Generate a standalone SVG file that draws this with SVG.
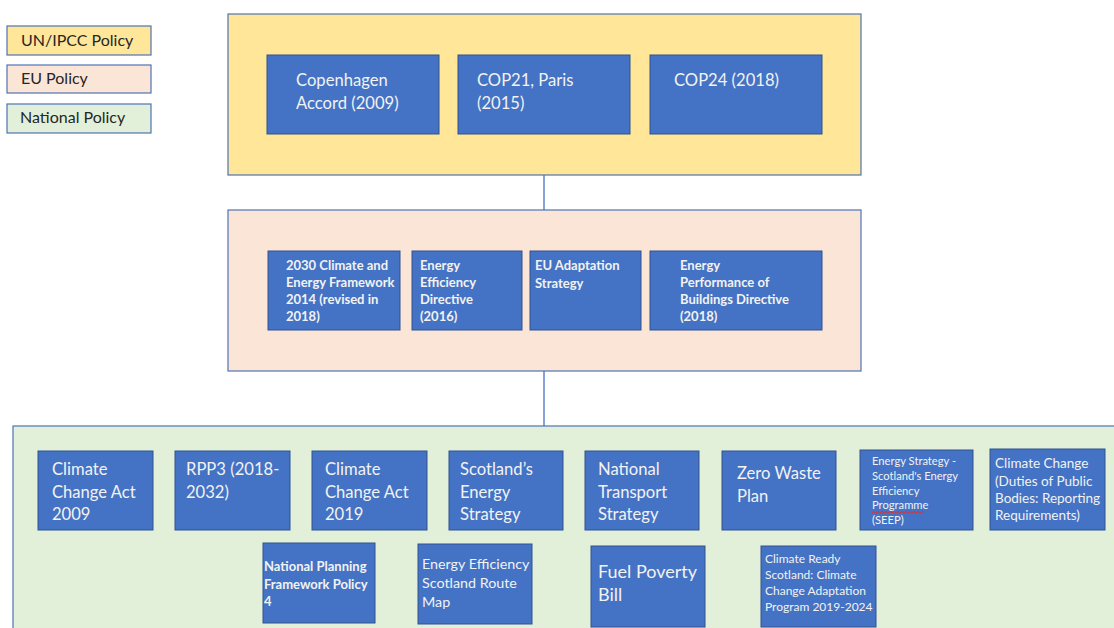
<svg xmlns="http://www.w3.org/2000/svg" width="1114" height="628" viewBox="0 0 1114 628">
<style>
.bg{fill:#ffffff}
.un{fill:#FFE699;stroke:#4F73B5;stroke-width:1.2}
.eu{fill:#FBE5D6;stroke:#4F73B5;stroke-width:1.2}
.nat{fill:#E2F0D9;stroke:#4F73B5;stroke-width:1.2}
.node{fill:#4472C4;stroke:#2F528F;stroke-width:1}
.t{font-family:Lato,"Open Sans","Liberation Sans",sans-serif;fill:#F2F2F2}
.t16{font-size:16.6px}
.t12{font-size:13px;font-weight:bold}
.leg{font-family:Lato,"Open Sans","Liberation Sans",sans-serif;font-size:16px;fill:#262626}
.conn{stroke:#4472C4;stroke-width:1.3;fill:none}
</style>
<rect class="bg" x="0" y="0" width="1114" height="628"/>

<g id="legend">
  <g id="legend-un"><rect class="un" x="7" y="26" width="144" height="29"/><text class="leg" x="21" y="46">UN/IPCC Policy</text></g>
  <g id="legend-eu"><rect class="eu" x="7" y="65" width="144" height="28"/><text class="leg" x="21" y="84">EU Policy</text></g>
  <g id="legend-nat"><rect class="nat" x="7" y="104" width="144" height="29"/><text class="leg" x="20" y="123">National Policy</text></g>
</g>

<g id="connectors">
  <line class="conn" x1="544" y1="175" x2="544" y2="210"/>
  <line class="conn" x1="544" y1="371" x2="544" y2="426"/>
</g>

<g id="un-container"><rect class="un" x="228" y="14" width="633" height="161"/></g>
<g id="eu-container"><rect class="eu" x="228" y="210" width="633" height="161"/></g>
<g id="nat-container"><rect class="nat" x="13" y="426" width="1110" height="210"/></g>

<g id="copenhagen"><rect class="node" x="267" y="55" width="172" height="79"/>
  <text class="t t16" x="296" y="86">Copenhagen</text><text class="t t16" x="296" y="109">Accord (2009)</text></g>
<g id="cop21"><rect class="node" x="458" y="55" width="172" height="79"/>
  <text class="t t16" x="477" y="86">COP21, Paris</text><text class="t t16" x="477" y="109">(2015)</text></g>
<g id="cop24"><rect class="node" x="650" y="55" width="172" height="79"/>
  <text class="t t16" x="674" y="86">COP24 (2018)</text></g>

<g id="eu2030"><rect class="node" x="268" y="251" width="132" height="79"/>
  <text class="t t12" x="286" y="270">2030 Climate and</text><text class="t t12" x="286" y="287">Energy Framework</text><text class="t t12" x="286" y="304">2014 (revised in</text><text class="t t12" x="286" y="321">2018)</text></g>
<g id="eed"><rect class="node" x="412" y="251" width="110" height="79"/>
  <text class="t t12" x="420" y="270">Energy</text><text class="t t12" x="420" y="287">Efficiency</text><text class="t t12" x="420" y="304">Directive</text><text class="t t12" x="420" y="321">(2016)</text></g>
<g id="euadapt"><rect class="node" x="530" y="251" width="111" height="79"/>
  <text class="t t12" x="535" y="270">EU Adaptation</text><text class="t t12" x="535" y="288">Strategy</text></g>
<g id="epbd"><rect class="node" x="650" y="251" width="172" height="79"/>
  <text class="t t12" x="680" y="270">Energy</text><text class="t t12" x="680" y="287">Performance of</text><text class="t t12" x="680" y="304">Buildings Directive</text><text class="t t12" x="680" y="321">(2018)</text></g>

<g id="cca2009"><rect class="node" x="38" y="451" width="115" height="79"/>
  <text class="t t16" x="52" y="475">Climate</text><text class="t t16" x="52" y="498">Change Act</text><text class="t t16" x="52" y="520">2009</text></g>
<g id="rpp3"><rect class="node" x="175" y="451" width="115" height="79"/>
  <text class="t t16" x="186" y="475">RPP3 (2018-</text><text class="t t16" x="186" y="498">2032)</text></g>
<g id="cca2019"><rect class="node" x="312" y="451" width="115" height="79"/>
  <text class="t t16" x="325" y="475">Climate</text><text class="t t16" x="325" y="498">Change Act</text><text class="t t16" x="325" y="520">2019</text></g>
<g id="ses"><rect class="node" x="449" y="451" width="114" height="79"/>
  <text class="t t16" x="460" y="475">Scotland’s</text><text class="t t16" x="460" y="498">Energy</text><text class="t t16" x="460" y="520">Strategy</text></g>
<g id="nts"><rect class="node" x="585" y="451" width="114" height="79"/>
  <text class="t t16" x="598" y="475">National</text><text class="t t16" x="598" y="498">Transport</text><text class="t t16" x="598" y="520">Strategy</text></g>
<g id="zwp"><rect class="node" x="722" y="451" width="114" height="79"/>
  <text class="t t16" x="737" y="479">Zero Waste</text><text class="t t16" x="737" y="502">Plan</text></g>
<g id="seep"><rect class="node" x="860" y="450" width="113" height="80"/>
  <text class="t" font-size="11.2" x="872" y="465">Energy Strategy -</text><text class="t" font-size="11.2" x="872" y="480">Scotland's Energy</text><text class="t" font-size="11.2" x="872" y="495">Efficiency</text><text class="t" font-size="11.2" x="872" y="509">Programme</text><text class="t" font-size="11.2" x="872" y="524">(SEEP)</text>
  <path d="M872 513 l2 -1.5 l2 1.5 l2 -1.5 l2 1.5 l2 -1.5 l2 1.5 l2 -1.5 l2 1.5 l2 -1.5 l2 1.5 l2 -1.5 l2 1.5 l2 -1.5 l2 1.5 l2 -1.5 l2 1.5 l2 -1.5 l2 1.5 l2 -1.5 l2 1.5 l2 -1.5 l2 1.5 l2 -1.5 l2 1.5 l2 -1.5 l2 1.5" fill="none" stroke="#E0302A" stroke-width="1"/></g>
<g id="ccduties"><rect class="node" x="990" y="449" width="115" height="81"/>
  <text class="t" font-size="13.5" x="995" y="468">Climate Change</text><text class="t" font-size="13.5" x="995" y="486">(Duties of Public</text><text class="t" font-size="13.5" x="995" y="503">Bodies: Reporting</text><text class="t" font-size="13.5" x="995" y="520">Requirements)</text></g>

<g id="npf4"><rect class="node" x="263" y="543" width="112" height="80"/>
  <text class="t t12" x="264" y="571">National Planning</text><text class="t t12" x="264" y="589">Framework Policy</text><text class="t t12" x="264" y="606">4</text></g>
<g id="eesrm"><rect class="node" x="418" y="544" width="114" height="80"/>
  <text class="t" font-size="14.3" x="422" y="569">Energy Efficiency</text><text class="t" font-size="14.3" x="422" y="588">Scotland Route</text><text class="t" font-size="14.3" x="422" y="607">Map</text></g>
<g id="fpb"><rect class="node" x="591" y="546" width="114" height="81"/>
  <text class="t" font-size="18" x="598" y="578">Fuel Poverty</text><text class="t" font-size="18" x="598" y="601">Bill</text></g>
<g id="crs"><rect class="node" x="761" y="546" width="115" height="81"/>
  <text class="t" font-size="12" x="765" y="563">Climate Ready</text><text class="t" font-size="12" x="765" y="579">Scotland: Climate</text><text class="t" font-size="12" x="765" y="595">Change Adaptation</text><text class="t" font-size="12" x="765" y="611">Program 2019-2024</text></g>
</svg>
